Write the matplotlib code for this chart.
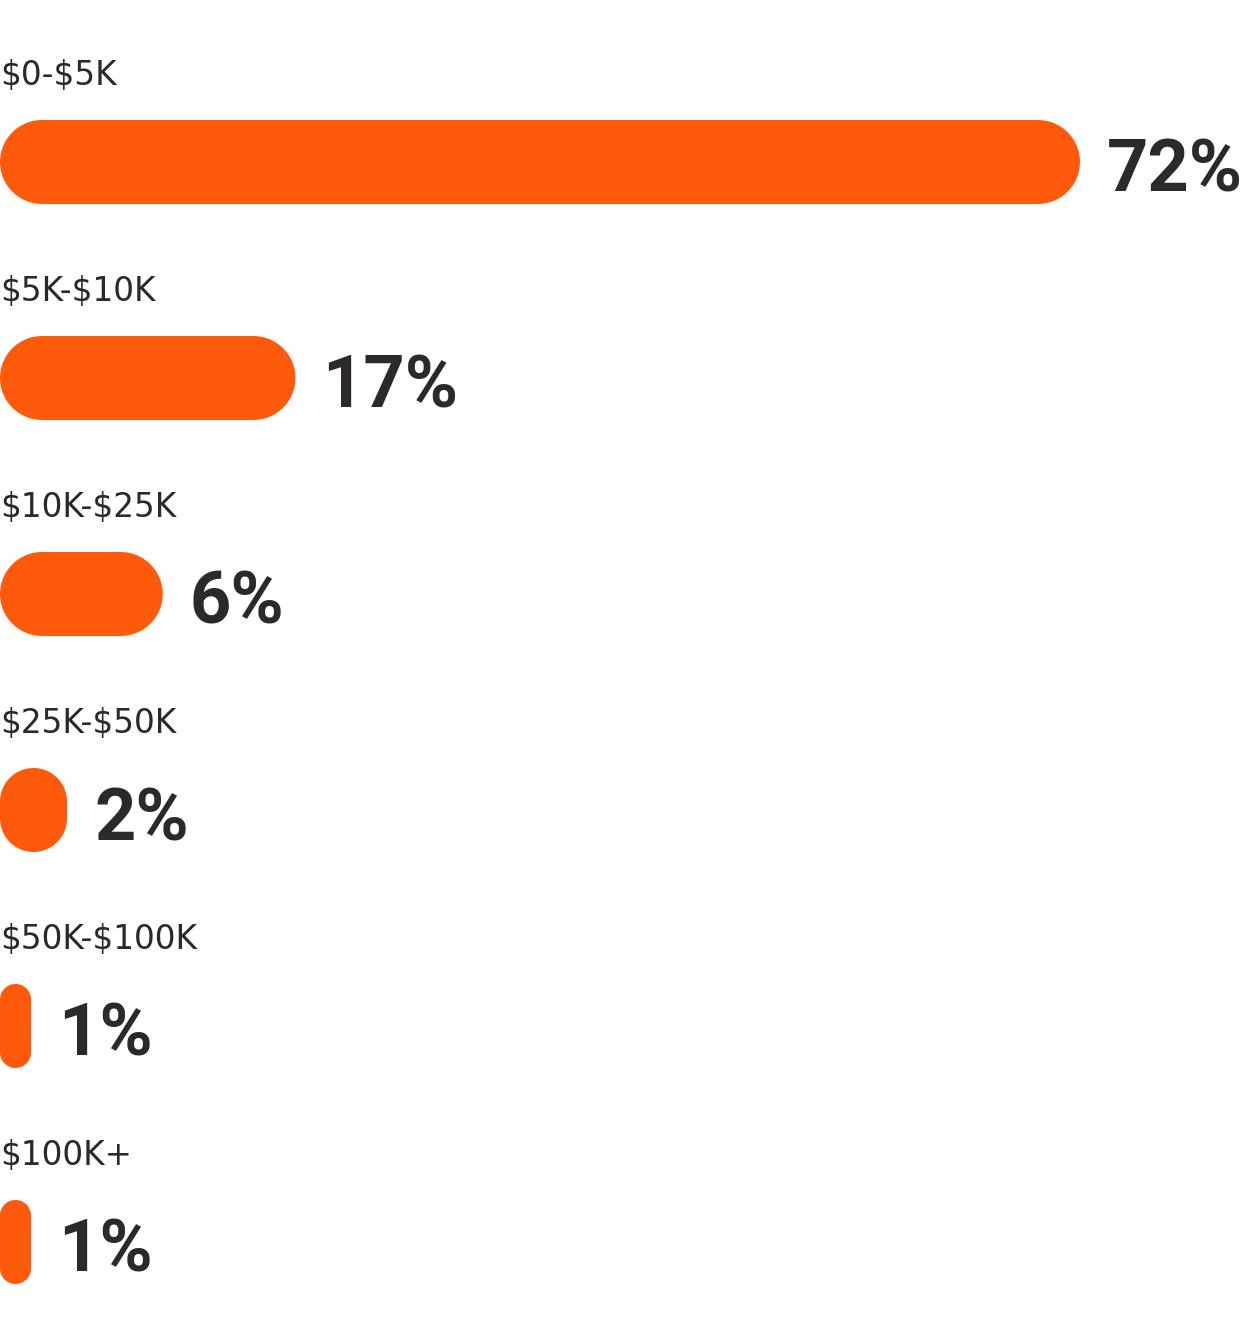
import matplotlib
matplotlib.use("Agg")
import matplotlib.pyplot as plt
import numpy as np
from matplotlib.patches import Polygon

plt.rcParams["text.parse_math"] = False

# deal size buckets and their shares
categories = ["$0-$5K", "$5K-$10K", "$10K-$25K", "$25K-$50K", "$50K-$100K", "$100K+"]
shares = [72, 17, 6, 2, 1, 1]
# drawn bar lengths (same percent units)
bar_lengths = [72.0, 19.7, 10.85, 4.47, 2.07, 2.07]

orange = "#FF5A0C"
ink = "#2D2926"

W, H, DPI = 1254, 1336, 100
px = 15.0  # pixels per unit on both axes


def pill(x, y, w, h, r):
    # rounded rectangle with circular corners, y grows downward
    t = np.linspace(0, np.pi / 2, 20)
    pts = []
    corners = [(x + w - r, y + r, -np.pi / 2), (x + w - r, y + h - r, 0),
               (x + r, y + h - r, np.pi / 2), (x + r, y + r, np.pi)]
    for cx, cy, a0 in corners:
        pts += list(zip(cx + r * np.cos(a0 + t), cy + r * np.sin(a0 + t)))
    return np.array(pts)


fig = plt.figure(figsize=(W / DPI, H / DPI), dpi=DPI)
ax = fig.add_axes([0, 0, 1, 1])
ax.set_xlim(0, W / px)
ax.set_ylim(H / px, 0)
ax.axis("off")

row_step = 216 / px
bar_top0 = 120 / px
bar_h = 84 / px

for i, (cat, share, length) in enumerate(zip(categories, shares, bar_lengths)):
    top = bar_top0 + i * row_step
    r = min(length, bar_h) / 2
    ax.add_patch(Polygon(pill(0, top, length, bar_h, r), closed=True,
                         fc=orange, ec="none"))
    ax.text(0, top - 35 / px, cat, fontsize=23.5, color=ink,
            family=["DejaVu Sans"], ha="left", va="baseline")
    ax.text(length + 27 / px, top + bar_h - 12 / px, f"{share}%",
            fontsize=52, color=ink, family=["Roboto", "DejaVu Sans"],
            fontweight="bold", ha="left", va="baseline")

fig.savefig("out.png", dpi=DPI)
